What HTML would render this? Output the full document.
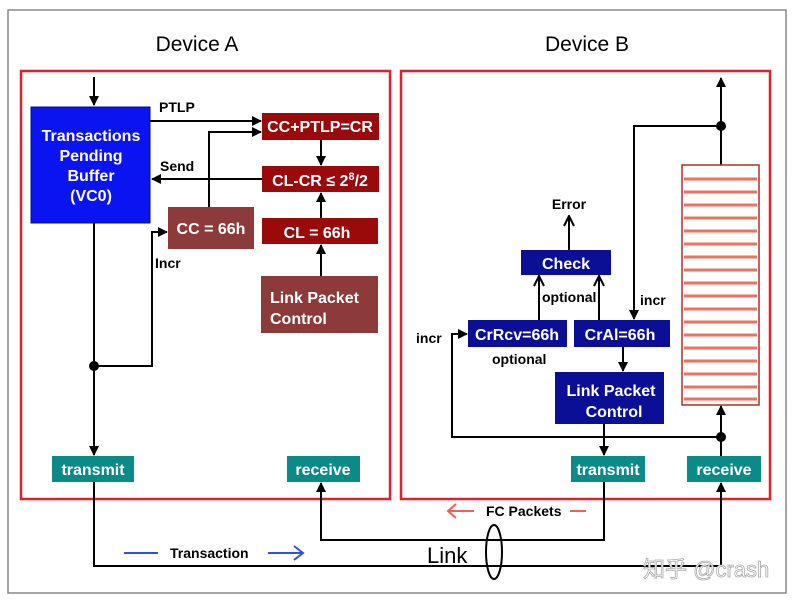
<!DOCTYPE html>
<html><head><meta charset="utf-8"><style>
html,body{margin:0;padding:0;background:#fff;width:801px;height:601px;overflow:hidden}
svg text{font-family:"Liberation Sans",Arial,sans-serif}
.b{font-weight:bold;fill:#fff;font-size:16px}
.k{font-weight:bold;fill:#000;font-size:14px}
</style></head><body>
<svg width="801" height="601" viewBox="0 0 801 601" xmlns="http://www.w3.org/2000/svg">
<defs>
<marker id="a" markerWidth="10" markerHeight="10" refX="9" refY="5" orient="auto" markerUnits="userSpaceOnUse"><path d="M0,0 L10,5 L0,10 z" fill="#000"/></marker>
<marker id="o" markerWidth="12" markerHeight="12" refX="11" refY="6" orient="auto" markerUnits="userSpaceOnUse"><path d="M1,1 L11,6 L1,11" fill="none" stroke="#000" stroke-width="2"/></marker>
</defs>
<rect x="8" y="10" width="778" height="583" fill="#fff" stroke="#888" stroke-width="1.5"/>
<text x="197" y="51" font-size="21" text-anchor="middle">Device A</text>
<text x="587" y="51" font-size="21" text-anchor="middle">Device B</text>
<rect x="21" y="71" width="369" height="428" fill="none" stroke="#e0202e" stroke-width="2.5"/>
<rect x="401" y="71" width="369" height="428" fill="none" stroke="#e0202e" stroke-width="2.5"/>

<g stroke="#000" stroke-width="2" fill="none">
<line x1="94" y1="77" x2="94" y2="105" marker-end="url(#a)"/>
<line x1="94" y1="223" x2="94" y2="455" marker-end="url(#a)"/>
<polyline points="94,366 152,366 152,232 167,232" marker-end="url(#a)"/>
<line x1="150" y1="121" x2="261" y2="121" marker-end="url(#a)"/>
<polyline points="209,207 209,132 261,132" marker-end="url(#a)"/>
<line x1="262" y1="179" x2="152" y2="179" marker-end="url(#a)"/>
<line x1="321" y1="140" x2="321" y2="165" marker-end="url(#a)"/>
<line x1="321" y1="218" x2="321" y2="193" marker-end="url(#a)"/>
<line x1="321" y1="276" x2="321" y2="245" marker-end="url(#a)"/>
<polyline points="604,482 604,540 321,540 321,483" marker-end="url(#a)"/>
<polyline points="94,482 94,566 721,566 721,483" marker-end="url(#a)"/>
<line x1="721" y1="165" x2="721" y2="78" marker-end="url(#a)"/>
<polyline points="721,126 634,126 634,319" marker-end="url(#a)"/>
<line x1="623" y1="347" x2="623" y2="371" marker-end="url(#a)"/>
<line x1="604" y1="424" x2="604" y2="455" marker-end="url(#a)"/>
<line x1="721" y1="456" x2="721" y2="406" marker-end="url(#a)"/>
<polyline points="721,437 452,437 452,334 467,334" marker-end="url(#a)"/>
<line x1="539" y1="320" x2="539" y2="276" marker-end="url(#o)"/>
<line x1="599" y1="320" x2="599" y2="276" marker-end="url(#o)"/>
<line x1="569" y1="250" x2="569" y2="216" marker-end="url(#o)"/>
</g>
<g fill="#000"><circle cx="94" cy="366" r="5"/><circle cx="721" cy="126" r="5"/><circle cx="721" cy="437" r="5"/></g>
<ellipse cx="494" cy="552" rx="8" ry="27" fill="none" stroke="#000" stroke-width="2"/>

<rect x="31" y="107" width="119" height="116" fill="#0a14f0" stroke="#001080"/>
<text class="b" text-anchor="middle" font-size="17"><tspan x="91" y="141">Transactions</tspan><tspan x="91" y="161">Pending</tspan><tspan x="91" y="181">Buffer</tspan><tspan x="91" y="201">(VC0)</tspan></text>
<rect x="262" y="113" width="117" height="27" fill="#9a0a0a"/>
<text class="b" x="320" y="132" text-anchor="middle" font-size="14">CC+PTLP=CR</text>
<rect x="262" y="166" width="117" height="26" fill="#9a0a0a"/>
<text class="b" x="320" y="186" text-anchor="middle" font-size="16">CL-CR ≤ 2<tspan dy="-6" font-size="11">8</tspan><tspan dy="6">/2</tspan></text>
<rect x="168" y="207" width="86" height="42" fill="#8c3a3a"/>
<text class="b" x="211" y="234" text-anchor="middle" font-size="17">CC = 66h</text>
<rect x="262" y="218" width="116" height="26" fill="#9a0a0a"/>
<text class="b" x="317" y="238" text-anchor="middle" font-size="17">CL = 66h</text>
<rect x="261" y="276" width="117" height="57" fill="#8c3a3a"/>
<text class="b" font-size="17"><tspan x="270" y="303">Link Packet</tspan><tspan x="270" y="324">Control</tspan></text>
<rect x="52" y="456" width="82" height="26" fill="#0b8a87"/>
<text class="b" x="93" y="475" text-anchor="middle" font-size="15">transmit</text>
<rect x="287" y="456" width="73" height="26" fill="#0b8a87"/>
<text class="b" x="323" y="475" text-anchor="middle" font-size="15">receive</text>
<text class="k" x="159" y="112">PTLP</text>
<text class="k" x="160" y="171" font-size="15">Send</text>
<text class="k" x="155" y="268">Incr</text>

<rect x="521" y="250" width="90" height="25" fill="#0b0f96"/>
<text class="b" x="566" y="269" text-anchor="middle" font-size="17">Check</text>
<rect x="468" y="320" width="99" height="27" fill="#0b0f96"/>
<text class="b" x="517" y="340" text-anchor="middle" font-size="17">CrRcv=66h</text>
<rect x="574" y="320" width="96" height="27" fill="#0b0f96"/>
<text class="b" x="620" y="340" text-anchor="middle" font-size="17">CrAl=66h</text>
<rect x="555" y="372" width="109" height="52" fill="#0b0f96"/>
<text class="b" text-anchor="middle" font-size="17"><tspan x="611" y="396">Link Packet</tspan><tspan x="614" y="417">Control</tspan></text>
<rect x="571" y="456" width="74" height="26" fill="#0b8a87"/>
<text class="b" x="608" y="475" text-anchor="middle" font-size="15">transmit</text>
<rect x="687" y="456" width="74" height="26" fill="#0b8a87"/>
<text class="b" x="724" y="475" text-anchor="middle" font-size="15">receive</text>
<text class="k" x="569" y="209" text-anchor="middle">Error</text>
<text class="k" x="542" y="302" font-size="12">optional</text>
<text class="k" x="492" y="364" font-size="13">optional</text>
<text class="k" x="640" y="305" font-size="15">incr</text>
<text class="k" x="416" y="343" font-size="15">incr</text>

<rect x="682" y="165" width="77" height="240" fill="#fff" stroke="#b03020" stroke-width="1.5"/>
<g stroke="#f07060" stroke-width="3">
<line x1="684" y1="179" x2="757" y2="179"/><line x1="684" y1="192" x2="757" y2="192"/><line x1="684" y1="205" x2="757" y2="205"/><line x1="684" y1="218" x2="757" y2="218"/><line x1="684" y1="231" x2="757" y2="231"/><line x1="684" y1="244" x2="757" y2="244"/><line x1="684" y1="257" x2="757" y2="257"/><line x1="684" y1="270" x2="757" y2="270"/><line x1="684" y1="283" x2="757" y2="283"/><line x1="684" y1="296" x2="757" y2="296"/><line x1="684" y1="309" x2="757" y2="309"/><line x1="684" y1="322" x2="757" y2="322"/><line x1="684" y1="335" x2="757" y2="335"/><line x1="684" y1="348" x2="757" y2="348"/><line x1="684" y1="361" x2="757" y2="361"/><line x1="684" y1="374" x2="757" y2="374"/><line x1="684" y1="387" x2="757" y2="387"/><line x1="684" y1="399" x2="757" y2="399"/>
</g>

<g stroke="#f06050" stroke-width="2" fill="none">
<line x1="448" y1="511" x2="474" y2="511"/><polyline points="456,504 448,511 456,518"/>
<line x1="570" y1="511" x2="586" y2="511"/>
</g>
<text class="k" x="486" y="516" font-size="13">FC Packets</text>
<g stroke="#3050e0" stroke-width="2" fill="none">
<line x1="124" y1="553" x2="158" y2="553"/>
<line x1="268" y1="553" x2="303" y2="553"/><polyline points="294,546 303,553 294,560"/>
</g>
<text class="k" x="170" y="558" font-size="14">Transaction</text>
<text x="427" y="563" font-size="22">Link</text>
<text x="643" y="577" font-size="22" fill="#fff" stroke="#aaa" stroke-width="0.8" font-family="Liberation Sans,'Noto Sans CJK SC',sans-serif">知乎 @crash</text>
</svg>
</body></html>
